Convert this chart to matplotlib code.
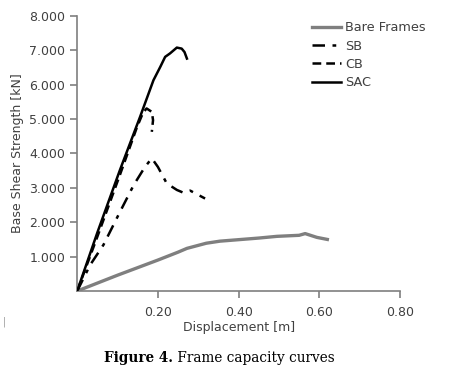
import matplotlib
matplotlib.use("Agg")
import matplotlib.pyplot as plt
from matplotlib.ticker import FuncFormatter

# Data (displacement [m], base shear [kN])
bare_x = [0.0, 0.10, 0.20, 0.25, 0.272, 0.32, 0.354, 0.386, 0.45, 0.495, 0.55, 0.565, 0.594, 0.62]
bare_y = [0, 460, 900, 1130, 1240, 1390, 1450, 1480, 1540, 1590, 1620, 1670, 1560, 1500]

sb_x = [0.0, 0.032, 0.065, 0.106, 0.14, 0.168, 0.185, 0.20, 0.222, 0.247, 0.263, 0.28, 0.317]
sb_y = [0, 755, 1340, 2300, 3080, 3610, 3860, 3610, 3130, 2940, 2860, 2920, 2690]

cb_x = [0.0, 0.05, 0.106, 0.148, 0.163, 0.172, 0.185, 0.188, 0.185]
cb_y = [0, 1580, 3380, 4760, 5180, 5310, 5210, 4970, 4630]

sac_x = [0.0, 0.05, 0.106, 0.156, 0.189, 0.206, 0.218, 0.23, 0.247, 0.259, 0.266, 0.272]
sac_y = [0, 1700, 3520, 5070, 6130, 6520, 6810, 6910, 7080, 7050, 6950, 6760]

x_ticks = [0.2, 0.4, 0.6, 0.8]
y_ticks = [1000, 2000, 3000, 4000, 5000, 6000, 7000, 8000]

GRAY = "#7f7f7f"
TXT = "#404040"

fig = plt.figure(figsize=(4.54, 3.71), dpi=100)
ax = fig.add_axes([0.17, 0.2156, 0.711, 0.7414])

ax.plot(bare_x, bare_y, color=GRAY, lw=2.4, label="Bare Frames", solid_joinstyle="round")
ax.plot(sb_x, sb_y, color="black", lw=1.8, dashes=(5, 3, 1.5, 3), label="SB")
ax.plot(sac_x, sac_y, color="black", lw=1.8, label="SAC", zorder=2)
ax.plot(cb_x, cb_y, color="black", lw=1.8, dashes=(3.5, 2), label="CB", zorder=3)

ax.set_xlim(0, 0.8)
ax.set_ylim(0, 8000)
ax.set_xticks(x_ticks)
ax.set_yticks(y_ticks)
ax.xaxis.set_major_formatter(FuncFormatter(lambda v, p: f"{v:.2f}"))
ax.yaxis.set_major_formatter(FuncFormatter(lambda v, p: f"{v/1000:.3f}"))

for s in ["top", "right"]:
    ax.spines[s].set_visible(False)
for s in ["left", "bottom"]:
    ax.spines[s].set_color(GRAY)
    ax.spines[s].set_linewidth(1.2)
ax.tick_params(axis="both", colors=GRAY, labelcolor=TXT, labelsize=9, length=5, width=1.2, direction="out")
ax.tick_params(axis="x", pad=6)

ax.set_xlabel("Displacement [m]", fontsize=9, color=TXT, labelpad=1)
ax.set_ylabel("Base Shear Strength [kN]", fontsize=9, color=TXT, labelpad=4)

h, l = ax.get_legend_handles_labels()
order = [l.index(n) for n in ["Bare Frames", "SB", "CB", "SAC"]]
leg = ax.legend([h[i] for i in order], [l[i] for i in order],
                loc="upper left", bbox_to_anchor=(0.71, 1.0), frameon=False, fontsize=9.3,
                handlelength=2.3, handletextpad=0.3, labelspacing=0.42, borderaxespad=0.0)
for t in leg.get_texts():
    t.set_color(TXT)

t1 = fig.text(0.228, 0.025, "Figure 4.", fontsize=9.8, fontweight="bold", family="DejaVu Serif", color="black")
ax.annotate(" Frame capacity curves", xy=(1, 0), xycoords=t1, va="bottom", ha="left",
            fontsize=9.8, family="DejaVu Serif", color="black", annotation_clip=False)
fig.text(0.005, 0.125, "|", fontsize=7, color="#999999")

fig.savefig("out.png", dpi=100)
